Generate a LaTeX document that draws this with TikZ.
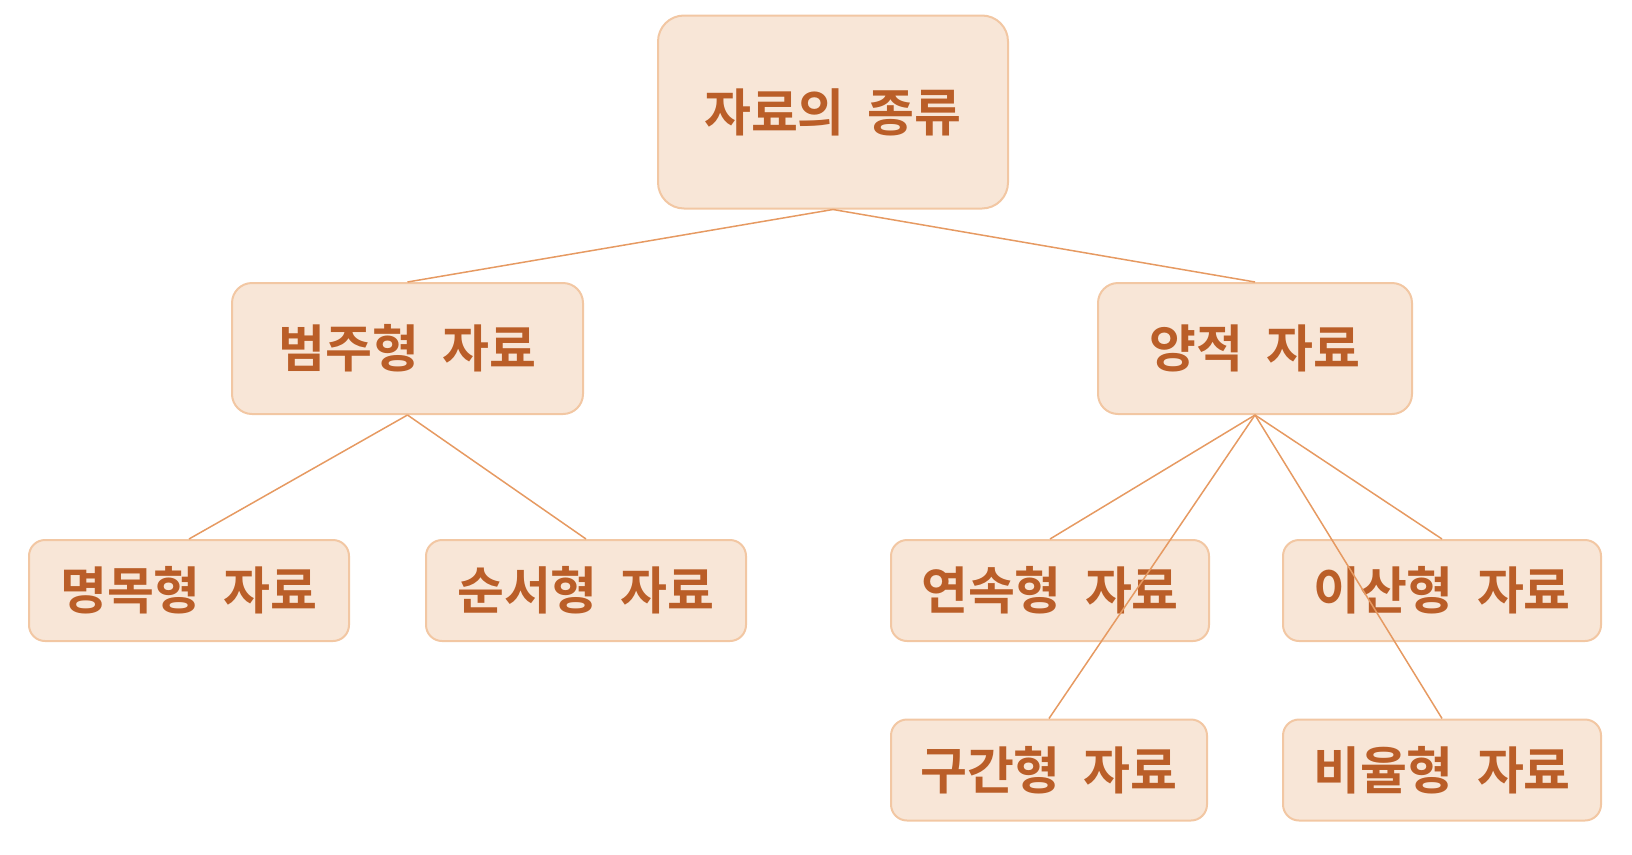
\documentclass[tikz,border=0pt]{standalone}
\usepackage{fontspec}
\setmainfont[WordSpace=2]{Noto Sans CJK KR Bold}
\definecolor{boxfill}{HTML}{F8E6D7}
\definecolor{boxline}{HTML}{F2C7A3}
\definecolor{boxtext}{HTML}{BA5E28}
\definecolor{edgecol}{HTML}{E69A62}
\begin{document}
\begin{tikzpicture}[x=1pt,y=-1pt,
  databox/.style={draw=boxline, line width=2pt, fill=boxfill, rounded corners=16pt,
    text=boxtext, font=\fontsize{51}{60}\selectfont, inner sep=0pt, align=center},
  edge/.style={draw=edgecol, line width=1.5pt}]
\useasboundingbox (0,0) rectangle (1632,854);
\node[databox, minimum width=350pt, minimum height=193pt, rounded corners=26pt] (root) at (833,112) {자료의 종류};
\node[databox, minimum width=351pt, minimum height=131pt, rounded corners=20pt] (cat) at (407.5,348.5) {범주형 자료};
\node[databox, minimum width=314pt, minimum height=131pt, rounded corners=20pt] (qua) at (1255,348.5) {양적 자료};
\node[databox, minimum width=320pt, minimum height=101pt] (nom) at (189,590.5) {명목형 자료};
\node[databox, minimum width=320pt, minimum height=101pt] (ord) at (586,590.5) {순서형 자료};
\node[databox, minimum width=318pt, minimum height=101pt] (con) at (1050,590.5) {연속형 자료};
\node[databox, minimum width=318pt, minimum height=101pt] (dis) at (1442,590.5) {이산형 자료};
\node[databox, minimum width=316pt, minimum height=101pt] (int) at (1049,770) {구간형 자료};
\node[databox, minimum width=318pt, minimum height=101pt] (rat) at (1442,770) {비율형 자료};
\draw[edge] (root.south) -- (cat.north);
\draw[edge] (root.south) -- (qua.north);
\draw[edge] (cat.south) -- (nom.north);
\draw[edge] (cat.south) -- (ord.north);
\draw[edge] (qua.south) -- (con.north);
\draw[edge] (qua.south) -- (dis.north);
\draw[edge] (qua.south) -- (int.north);
\draw[edge] (qua.south) -- (rat.north);
\end{tikzpicture}
\end{document}
